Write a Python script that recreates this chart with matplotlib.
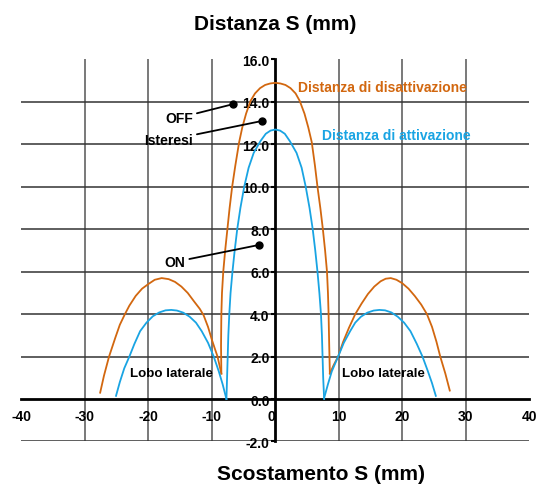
import matplotlib
matplotlib.use("Agg")
import matplotlib.pyplot as plt

plt.rcParams['font.family'] = ['Liberation Sans Narrow', 'Liberation Sans', 'DejaVu Sans']
plt.rcParams['font.weight'] = 'bold'

# Curves (x = scostamento mm, y = distanza mm)
off_main_x = [-8.5, -8.55, -8.5, -8.4, -8.2, -7.9, -7.55, -7.2, -6.8, -6.3, -5.7, -5.2, -4.6, -3.9,
              -3.2, -2.4, -1.6, -0.8, 0.0, 0.8, 1.6, 2.4, 3.2, 3.85, 4.6, 5.2, 5.75, 6.25, 6.65,
              7.1, 7.5, 7.85, 8.15, 8.3, 8.4, 8.5, 8.6]
off_main_y = [1.2, 2.5, 4.0, 5.0, 6.0, 7.0, 8.0, 9.0, 10.0, 11.0, 12.1, 12.8, 13.45, 14.05,
              14.4, 14.65, 14.8, 14.87, 14.9, 14.87, 14.8, 14.65, 14.4, 14.05, 13.45, 12.8, 12.1,
              11.0, 10.0, 9.0, 8.0, 7.0, 6.0, 5.0, 4.0, 2.5, 1.2]

off_left_x = [-27.6, -27.0, -26.2, -25.2, -24.5, -23.7, -23.0, -22.0, -21.0, -20.0, -19.0, -17.9,
              -16.8, -15.8, -14.8, -13.8, -12.8, -11.9, -11.3, -10.6, -10.0, -9.5, -9.1, -8.5]
off_left_y = [0.3, 1.1, 2.0, 2.9, 3.5, 4.0, 4.4, 4.86, 5.2, 5.42, 5.62, 5.7,
              5.65, 5.52, 5.3, 5.0, 4.6, 4.25, 3.95, 3.4, 2.8, 2.35, 2.0, 1.2]

off_right_x = [8.6, 9.2, 9.9, 10.7, 11.6, 12.6, 13.6, 14.6, 15.6, 16.6, 17.4, 18.2, 19.1, 20.0,
               21.0, 22.0, 23.0, 23.9, 24.7, 25.4, 26.0, 26.8, 27.5]
off_right_y = [1.2, 1.6, 2.0, 2.7, 3.35, 4.0, 4.5, 4.95, 5.3, 5.55, 5.67, 5.7, 5.62, 5.46,
               5.2, 4.85, 4.45, 4.0, 3.4, 2.7, 2.0, 1.2, 0.4]

on_main_x = [-7.7, -7.6, -7.5, -7.4, -7.25, -7.05, -6.75, -6.4, -6.0, -5.5, -4.9, -4.2, -3.4,
             -2.35, -1.5, -0.75, 0.0, 0.75, 1.5, 2.3, 3.35, 4.15, 4.8, 5.4, 5.9, 6.3, 6.65,
             6.95, 7.2, 7.35, 7.45, 7.55, 7.7]
on_main_y = [0.0, 1.0, 2.0, 3.0, 4.0, 5.0, 6.0, 7.0, 8.0, 9.0, 10.0, 10.9, 11.6,
             12.15, 12.5, 12.65, 12.7, 12.65, 12.5, 12.15, 11.6, 10.9, 10.0, 9.0, 8.0, 7.0, 6.0,
             5.0, 4.0, 3.0, 2.0, 1.0, 0.0]

on_left_x = [-25.1, -24.5, -23.8, -23.0, -22.2, -21.3, -20.3, -19.3, -18.3, -17.3, -16.4, -15.5,
             -14.5, -13.5, -12.5, -11.6, -10.6, -9.7, -8.9, -8.3, -7.7]
on_left_y = [0.15, 0.8, 1.45, 2.0, 2.6, 3.2, 3.6, 3.9, 4.08, 4.18, 4.2, 4.17,
             4.07, 3.88, 3.6, 3.2, 2.65, 2.0, 1.3, 0.7, 0.0]

on_right_x = [7.7, 8.3, 8.9, 9.9, 10.8, 11.8, 12.6, 13.5, 14.5, 15.5, 16.4, 17.3, 18.3, 19.3,
              20.3, 21.3, 22.3, 23.2, 24.0, 24.7, 25.3]
on_right_y = [0.05, 0.7, 1.3, 2.0, 2.65, 3.2, 3.6, 3.88, 4.07, 4.17, 4.2, 4.18, 4.08, 3.88,
              3.6, 3.2, 2.6, 2.0, 1.35, 0.75, 0.15]

x_ticks = [-40, -30, -20, -10, 0, 10, 20, 30, 40]
y_ticks = [-2.0, 0.0, 2.0, 4.0, 6.0, 8.0, 10.0, 12.0, 14.0, 16.0]

orange = '#D2670F'
blue = '#19A4E3'

fig = plt.figure(figsize=(5.41, 4.89), dpi=100)
ax = fig.add_axes([0.0397, 0.0951, 0.9383, 0.7812])
ax.set_xlim(-40, 40)
ax.set_ylim(-2, 16)

# grid (inner lines only)
ax.vlines([v for v in x_ticks if v not in (-40, 0, 40)], -2, 16, color='#555555', lw=1.1, zorder=1)
ax.hlines([v for v in y_ticks if v not in (0.0, 16.0)], -40, 40, color='#333333', lw=1.1, zorder=1)

for s in ['top', 'right']:
    ax.spines[s].set_visible(False)
ax.spines['left'].set_position(('data', 0))
ax.spines['bottom'].set_position(('data', 0))
ax.spines['left'].set_linewidth(2.0)
ax.spines['bottom'].set_linewidth(2.0)

ax.set_xticks(x_ticks)
ax.set_xticklabels([str(v) for v in x_ticks])
ax.set_yticks(y_ticks)
ax.set_yticklabels(['%.1f' % v for v in y_ticks])
ax.tick_params(axis='y', length=3, width=1.5, pad=1, labelsize=10)
ax.tick_params(axis='x', length=0, pad=7, labelsize=10)
for lab in ax.get_xticklabels() + ax.get_yticklabels():
    lab.set_fontweight('bold')
# the "0" sits just left of the vertical axis
ax.get_xticklabels()[x_ticks.index(0)].set_horizontalalignment('right')

lw = 1.3
ax.plot(off_main_x, off_main_y, color=orange, lw=lw, zorder=3)
ax.plot(off_left_x, off_left_y, color=orange, lw=lw, zorder=3)
ax.plot(off_right_x, off_right_y, color=orange, lw=lw, zorder=3)
ax.plot(on_main_x, on_main_y, color=blue, lw=lw, zorder=3)
ax.plot(on_left_x, on_left_y, color=blue, lw=lw, zorder=3)
ax.plot(on_right_x, on_right_y, color=blue, lw=lw, zorder=3)

# annotations
ax.text(3.6, 14.7, 'Distanza di disattivazione', color=orange, fontsize=10,
        fontweight='bold', ha='left', va='center')
ax.text(7.3, 12.42, 'Distanza di attivazione', color=blue, fontsize=10,
        fontweight='bold', ha='left', va='center')
ax.text(-16.4, 1.25, 'Lobo laterale', fontsize=9.6, fontweight='bold', ha='center', va='center')
ax.text(17.0, 1.25, 'Lobo laterale', fontsize=9.6, fontweight='bold', ha='center', va='center')

arrow = dict(arrowstyle='-', color='black', lw=1.3, shrinkA=1, shrinkB=0)
for label, pt, txt in [('OFF', (-6.6, 13.9), (-13.0, 13.25)),
                       ('Isteresi', (-2.15, 13.1), (-13.0, 12.2)),
                       ('ON', (-2.6, 7.26), (-14.2, 6.46))]:
    ax.annotate(label, xy=pt, xytext=txt, fontsize=10, fontweight='bold',
                ha='right', va='center', arrowprops=arrow, zorder=5)
    ax.plot(pt[0], pt[1], 'o', color='black', ms=5, zorder=6)

fig.text(275 / 541, 1 - 25 / 489, 'Distanza S (mm)', fontsize=15, fontweight='bold',
         ha='center', va='center')
fig.text(321 / 541, 1 - 475 / 489, 'Scostamento S (mm)', fontsize=15, fontweight='bold',
         ha='center', va='center')

fig.savefig('out.png', dpi=100)
